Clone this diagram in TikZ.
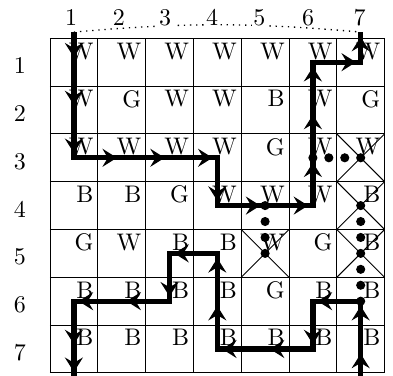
\documentclass[tikz,border=0pt]{standalone}
\usetikzlibrary{arrows.meta,decorations.markings}
\begin{document}
\begin{tikzpicture}[x=0.7cm,y=0.7cm,
  cellletter/.style={anchor=north east,inner sep=1.6pt},
  collab/.style={anchor=base,inner sep=0.6pt,fill=white},
  rowlab/.style={anchor=base,inner sep=0pt},
  pathline/.style={line width=2.2pt,line join=miter},
  amark/.style={line width=2.2pt,postaction={decorate},
    decoration={markings,mark=at position -2pt with {\arrow{Stealth[length=6pt,width=7.5pt,inset=2.2pt]}}}},
  crossline/.style={line width=0.4pt},
  gridline/.style={line width=0.4pt},
  dotline/.style={line width=0.55pt,dotted},
  dotr/.style={radius=1.9pt}]
\useasboundingbox (-1.046,0.801) rectangle (7.176,-7.065);

% cell centres
\foreach \c in {1,...,7}{
  \foreach \r in {1,...,7}{
    \coordinate (p-\c-\r) at (\c-0.5,-\r+0.5);
  }
}
\coordinate (t1) at (0.5,0.13);
\coordinate (t7) at (6.5,0.13);
\coordinate (b1) at (0.5,-7.08);
\coordinate (b7) at (6.5,-7.08);

% crossed cells
\foreach \c/\r in {7/3,7/4,5/5,7/5}{
  \draw[crossline] (\c-1,-\r+1) -- (\c,-\r);
  \draw[crossline] (\c,-\r+1) -- (\c-1,-\r);
}

% grid
\foreach \i in {0,...,7}{
  \draw[gridline] (\i,0) -- (\i,-7);
  \draw[gridline] (0,-\i) -- (7,-\i);
}

% letters
\foreach \r/\row in {1/{W,W,W,W,W,W,W},2/{W,G,W,W,B,W,G},3/{W,W,W,W,G,W,W},
  4/{B,B,G,W,W,W,B},5/{G,W,B,B,W,G,B},6/{B,B,B,B,G,B,B},7/{B,B,B,B,B,B,B}}{
  \foreach \L [count=\c] in \row {
    \node[cellletter] (l-\c-\r) at (\c,-\r+1) {\L};
  }
}

% row labels
\foreach \r in {1,...,7}{
  \node[rowlab] (row\r) at (-0.63,-\r+0.26) {\r};
}

% dotted line and column labels
\draw[dotline] (t1) to[bend left=5] (t7);
\foreach \c/\x in {1/0.44,2/1.44,3/2.41,4/3.39,5/4.38,6/5.40,7/6.48}{
  \node[collab] (col\c) at (\x,0.27) {\c};
}

% path 1
\draw[pathline] (t1) -- (p-1-1) -- (p-1-2) -- (p-1-3) -- (p-2-3) -- (p-3-3) -- (p-4-3)
  -- (p-4-4) -- (p-5-4) -- (p-6-4) -- (p-6-3) -- (p-6-2) -- (p-6-1) -- (p-7-1) -- (t7);
% path 2
\draw[pathline] (b7) -- (p-7-7) -- (p-7-6) -- (p-6-6) -- (p-6-7) -- (p-5-7) -- (p-4-7)
  -- (p-4-6) -- (p-4-5) -- (p-3-5) -- (p-3-6) -- (p-2-6) -- (p-1-6) -- (p-1-7) -- (b1);

% arrow marks
\foreach \a/\b in {t1/p-1-1,p-1-1/p-1-2,p-1-2/p-1-3,p-1-3/p-2-3,p-2-3/p-3-3,p-3-3/p-4-3,
  p-4-3/p-4-4,p-4-4/p-5-4,p-5-4/p-6-4,p-6-4/p-6-3,p-6-3/p-6-2,p-6-2/p-6-1,p-6-1/p-7-1,p-7-1/t7,
  b7/p-7-7,p-7-7/p-7-6,p-7-6/p-6-6,p-6-6/p-6-7,p-6-7/p-5-7,p-5-7/p-4-7,p-4-7/p-4-6,
  p-4-6/p-4-5,p-4-5/p-3-5,p-3-5/p-3-6,p-3-6/p-2-6,p-2-6/p-1-6,p-1-6/p-1-7,p-1-7/b1}{
  \path[amark] (\a) -- (\b);
}

% big dots
\foreach \i in {0,1,2,3}{
  \fill (5.5+\i/3,-2.5) circle[dotr];
  \fill (4.5,-3.5-\i/3) circle[dotr];
}
\foreach \i in {0,...,6}{
  \fill (6.5,-3.5-\i/3) circle[dotr];
}
\end{tikzpicture}
\end{document}
